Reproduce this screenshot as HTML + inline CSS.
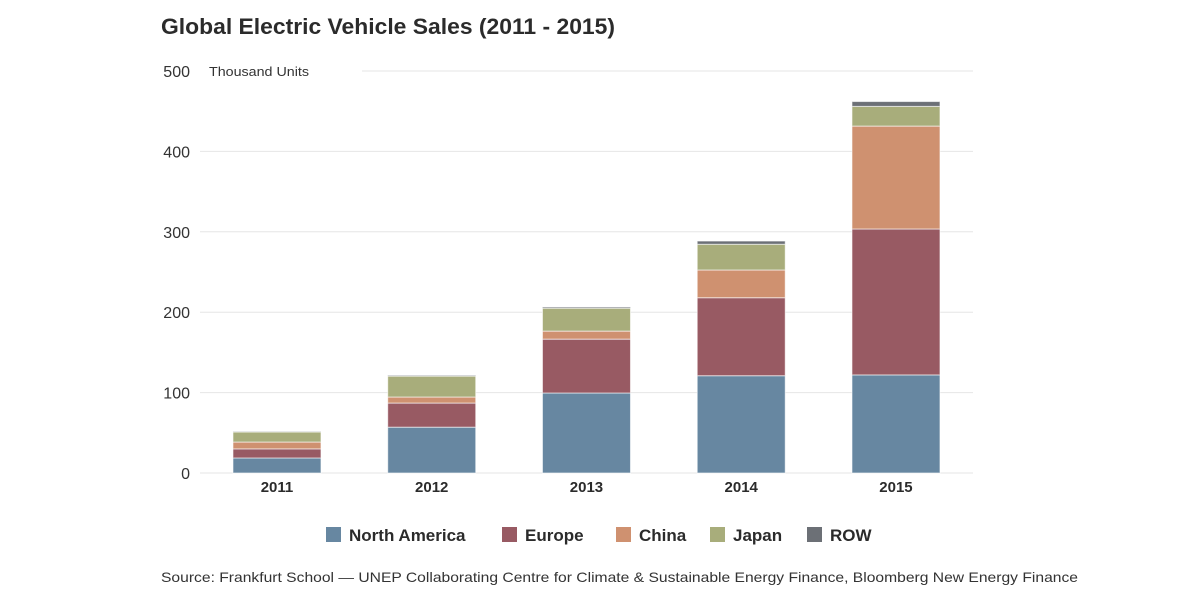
<!DOCTYPE html>
<html><head><meta charset="utf-8"><style>
body{margin:0;background:#fff;font-family:"Liberation Sans",sans-serif;}
</style></head><body>
<svg width="1200" height="600" xmlns="http://www.w3.org/2000/svg" id="svg">
<text x="161" y="34" font-size="22" font-weight="bold" fill="#2b2b2b" textLength="454" lengthAdjust="spacingAndGlyphs">Global Electric Vehicle Sales (2011 - 2015)</text>
<g id="grid"></g>
<g id="bars"></g>
<g id="axis"></g>
<text x="209" y="76" font-size="13" fill="#333" textLength="100" lengthAdjust="spacingAndGlyphs">Thousand Units</text>
<g id="legend"></g>
<text x="161" y="582" font-size="14" fill="#333" textLength="917" lengthAdjust="spacingAndGlyphs">Source: Frankfurt School — UNEP Collaborating Centre for Climate &amp; Sustainable Energy Finance, Bloomberg New Energy Finance</text>
</svg>
<script>
const years=["2011","2012","2013","2014","2015"];
const seriesNames=["North America","Europe","China","Japan","ROW"];
const northAmerica=[18.7,57,99.5,121,122];
const europe=[11.3,30,67,97,181.5];
const china=[8.5,7.5,10,34.5,128];
const japan=[12.5,26,28.5,32,24.5];
const row=[0.5,1,1.5,4,6];
const yTicks=[0,100,200,300,400,500];
const colors=["#6787a1","#985a63","#cf9170","#a8ad7b","#6c7076"];
const all=[northAmerica,europe,china,japan,row];
const NS="http://www.w3.org/2000/svg";
const y=v=>473-v*0.804;
const x0=199.6,band=154.75,bw=88;
const xc=i=>x0+band*(i+0.5);
function mk(t,a,p){const e=document.createElementNS(NS,t);for(const k in a)e.setAttribute(k,a[k]);p.appendChild(e);return e;}
const grid=document.getElementById('grid'),axis=document.getElementById('axis'),bars=document.getElementById('bars'),lg=document.getElementById('legend');
yTicks.forEach(t=>{
  const l=mk('line',{x1:t===500?362:200,x2:973,y1:y(t),y2:y(t),stroke:'#e6e6e6','stroke-width':1},grid);
  
  
  const tx=mk('text',{x:190,y:y(t)+6,'font-size':16,'text-anchor':'end',fill:'#333'},axis);
  tx.textContent=t;
  
  
});
years.forEach((yr,i)=>{
  let cum=0;
  all.forEach((s,j)=>{
    const v=s[i];
    const r=mk('rect',{x:xc(i)-bw/2,y:y(cum+v),width:bw,height:v*0.804,fill:colors[j],stroke:'#fff','stroke-opacity':0.6,'stroke-width':1},bars);
    
    
    cum+=v;
  });
  const tx=mk('text',{x:xc(i),y:492,'font-size':15,'font-weight':'bold','text-anchor':'middle',fill:'#2b2b2b'},axis);
  tx.textContent=yr;
  
  
});
const lx=[326,502,616,710,807];
seriesNames.forEach((n,j)=>{
  const r=mk('rect',{x:lx[j],y:527,width:15,height:15,fill:colors[j]},lg);
  
  
  const t=mk('text',{x:lx[j]+23,y:541,'font-size':17,'font-weight':'bold',fill:'#2b2b2b'},lg);
  t.textContent=n;
  
  
});
</script>
</body></html>
